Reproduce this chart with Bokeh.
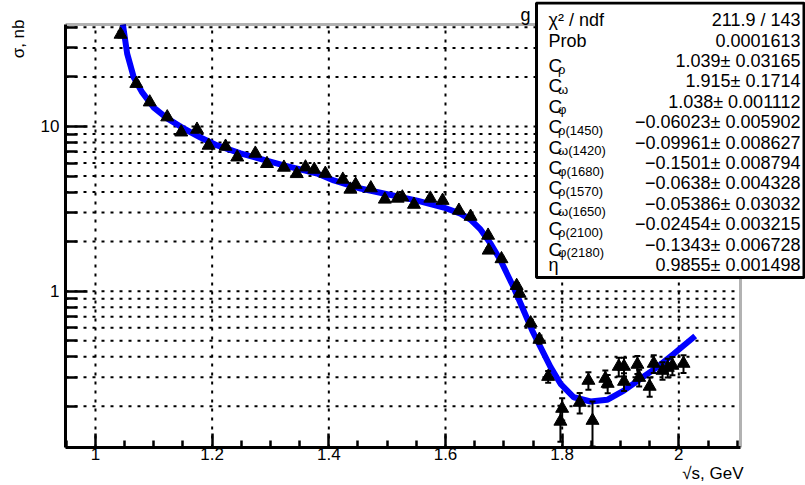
import math
from bokeh.plotting import figure
from bokeh.models import (Range1d, FixedTicker, Label, BoxAnnotation, Whisker,
                          TeeHead, ColumnDataSource, Title)
from bokeh.embed import file_html
from bokeh.resources import INLINE

# ---------------- data ----------------
pts_x = [1.043, 1.070, 1.093, 1.123, 1.147, 1.174, 1.194, 1.223, 1.243, 1.274,
         1.294, 1.323, 1.345, 1.360, 1.375, 1.394, 1.424, 1.437, 1.446, 1.472,
         1.496, 1.518, 1.526, 1.546, 1.574, 1.595, 1.623, 1.643, 1.673, 1.674,
         1.696, 1.722, 1.727, 1.746, 1.761, 1.776, 1.800, 1.797, 1.830, 1.845,
         1.852, 1.874, 1.878, 1.897, 1.906, 1.906, 1.929, 1.932, 1.950, 1.957,
         1.972, 1.981, 1.989, 2.008]
pts_y = [36.2, 18.2, 14.05, 11.4, 9.23, 9.59, 7.67, 7.56, 6.51, 6.86,
         5.94, 5.64, 5.16, 5.66, 5.48, 5.18, 4.77, 4.15, 4.44, 4.23,
         3.61, 3.66, 3.72, 3.36, 3.66, 3.55, 3.09, 2.84, 2.18, 1.77,
         1.57, 1.08, 0.969, 0.641, 0.509, 0.303, 0.194, 0.162, 0.211, 0.287,
         0.164, 0.295, 0.275, 0.349, 0.349, 0.283, 0.359, 0.299, 0.264, 0.364,
         0.330, 0.344, 0.354, 0.364]
pts_err = [1.5, 0.6, 0.4, 0.3, 0.25, 0.25, 0.2, 0.2, 0.15, 0.15,
           0.15, 0.15, 0.12, 0.12, 0.12, 0.12, 0.1, 0.1, 0.1, 0.1,
           0.08, 0.08, 0.08, 0.08, 0.08, 0.08, 0.07, 0.07, 0.06, 0.06,
           0.05, 0.04, 0.04, 0.03, 0.03, 0.025, 0.03, 0.04, 0.03, 0.035,
           0.05, 0.035, 0.035, 0.045, 0.045, 0.035, 0.045, 0.035, 0.035, 0.045,
           0.04, 0.045, 0.045, 0.045]

fit_x = [1.0470, 1.0543, 1.0657, 1.0801, 1.1000, 1.1229, 1.1514, 1.1800,
         1.2086, 1.2486, 1.3228, 1.3801, 1.4085, 1.4543, 1.4943, 1.5515, 1.5971,
         1.6257, 1.6429, 1.6600, 1.6772, 1.6943, 1.7171, 1.7487, 1.7629, 1.7801,
         1.7972, 1.8200, 1.8486, 1.8772, 1.9057, 1.9343, 1.9630, 1.9914, 2.0280]
fit_y = [41.6, 27.7, 19.8, 16.1, 13.0, 11.2, 9.72, 8.57,
         7.67, 6.86, 5.80, 5.18, 4.70, 4.20, 3.92, 3.55, 3.22,
         2.96, 2.72, 2.37, 1.95, 1.54, 1.05, 0.577, 0.457, 0.346,
         0.274, 0.227, 0.214, 0.219, 0.249, 0.294, 0.346, 0.417, 0.535]

x_major = [1.0, 1.2, 1.4, 1.6, 1.8, 2.0]
x_labels = ["1", "1.2", "1.4", "1.6", "1.8", "2"]
x_minor = [0.95, 1.05, 1.1, 1.15, 1.25, 1.3, 1.35, 1.45, 1.5, 1.55, 1.65, 1.7,
           1.75, 1.85, 1.9, 1.95, 2.05, 2.1]
y_major = [1, 10]
y_labels = ["1", "10"]
y_minor = [0.2, 0.3, 0.4, 0.5, 0.6, 0.7, 0.8, 0.9, 2, 3, 4, 5, 6, 7, 8, 9, 20, 30, 40]

x_title = "√s, GeV"
y_title = "σ, nb"

stat_names = ["χ² / ndf", "Prob", "C", "C", "C", "C", "C", "C", "C", "C", "C", "C", "η"]
stat_subs = ["", "", "ρ", "ω", "φ", "ρ(1450)", "ω(1420)", "φ(1680)", "ρ(1570)",
             "ω(1650)", "ρ(2100)", "φ(2180)", ""]
stat_values = ["211.9 / 143", "0.0001613", "1.039± 0.03165", "1.915± 0.1714",
               "1.038± 0.001112", "−0.06023± 0.005902", "−0.09961± 0.008627",
               "−0.1501± 0.008794", "−0.0638± 0.004328", "−0.05386± 0.03032",
               "−0.02454± 0.003215", "−0.1343± 0.006728", "0.9855± 0.001498"]

# ---------------- layout ----------------
W, H = 805, 485
FL, FR, FT, FB = 65, 740, 24, 447          # the ROOT frame, in canvas pixels
TOP = 1                                     # top of the (extended) Bokeh frame
XMIN, XMAX = 0.9486, 2.1057
YMIN, YMAX = 0.1125, 41.6
LMIN, LMAX = math.log10(YMIN), math.log10(YMAX)
XPP = (XMAX - XMIN) / (FR - FL)
LPP = (LMAX - LMIN) / (FB - FT)
# the Bokeh frame is extended up to (almost) the top and to the right canvas edge
XMAX_EXT = XMAX + (W - FR) * XPP
YMAX_EXT = 10 ** (LMAX + (FT - TOP) * LPP)

def dx(px):
    return XMIN + (px - FL) * XPP

def dy(py):
    return 10 ** (LMAX - (py - FT) * LPP)

FONT = "Liberation Sans"

p = figure(width=W, height=H, x_range=Range1d(XMIN, XMAX_EXT),
           y_range=Range1d(YMIN, YMAX_EXT),
           y_axis_type="log", output_backend="svg", toolbar_location=None,
           min_border_left=FL, min_border_right=0, min_border_top=TOP,
           min_border_bottom=H - FB)
p.background_fill_color = "white"
p.border_fill_color = "white"
p.outline_line_color = None
p.xgrid.visible = False
p.ygrid.visible = False

xt = FixedTicker(ticks=x_major, minor_ticks=x_minor)
yt = FixedTicker(ticks=y_major, minor_ticks=y_minor)
p.xaxis.ticker = xt
p.yaxis.ticker = yt
p.xaxis.major_label_overrides = {v: s for v, s in zip(x_major, x_labels)}
p.yaxis.major_label_overrides = {v: s for v, s in zip(y_major, y_labels)}
p.xaxis.bounds = (XMIN, XMAX)
p.yaxis.bounds = (YMIN, YMAX)

for ax in (p.xaxis[0], p.yaxis[0]):
    ax.axis_line_width = 3
    ax.axis_line_color = "black"
    ax.major_tick_line_width = 2.5
    ax.minor_tick_line_width = 2.5
    ax.major_tick_line_color = "black"
    ax.minor_tick_line_color = "black"
    ax.major_tick_out = 0
    ax.minor_tick_out = 0
    ax.major_label_text_font = FONT
    ax.major_label_text_font_size = "17px"
    ax.major_label_text_color = "black"
p.xaxis.major_tick_in = 14
p.xaxis.minor_tick_in = 7
p.xaxis.major_label_standoff = 0
p.yaxis.major_tick_in = 22
p.yaxis.minor_tick_in = 12
p.yaxis.major_label_standoff = 6

# axis titles, flush with the ROOT frame ends
p.add_layout(Title(text=x_title, align="right", vertical_align="bottom", offset=62,
                   standoff=-2, text_font=FONT, text_font_size="17px",
                   text_font_style="normal", text_color="black"), "below")
p.add_layout(Title(text=y_title, align="right", vertical_align="top", offset=18,
                   standoff=16, text_font=FONT, text_font_size="17px",
                   text_font_style="normal", text_color="black"), "left")

# dotted grid inside the ROOT frame, built from the tick arrays
gy = y_major + y_minor
p.segment(x0=[XMIN] * len(gy), x1=[XMAX] * len(gy), y0=gy, y1=gy,
          line_color="black", line_width=2, line_dash="3 6")
p.segment(x0=x_major, x1=x_major, y0=[YMIN] * len(x_major), y1=[YMAX] * len(x_major),
          line_color="black", line_width=2, line_dash="3 6")

# fit curve
p.line(fit_x, fit_y, line_color="#0000ff", line_width=6)

# data points with error bars
src = ColumnDataSource(dict(x=pts_x, y=pts_y,
                            lo=[y - e for y, e in zip(pts_y, pts_err)],
                            hi=[y + e for y, e in zip(pts_y, pts_err)]))
wh = Whisker(source=src, base="x", lower="lo", upper="hi", line_color="black", line_width=2,
             upper_head=TeeHead(size=6, line_width=2, line_color="black"),
             lower_head=TeeHead(size=6, line_width=2, line_color="black"),
             level="glyph")
p.add_layout(wh)
p.scatter("x", "y", source=src, marker="triangle", size=13, fill_color="black",
          line_color="black")

# ROOT frame (top and right edges)
p.add_layout(BoxAnnotation(left=XMIN, right=XMAX, top=YMAX, bottom=YMIN,
                           fill_alpha=0.0, line_color="black", line_width=3))

# title fragment (rest hidden by the stats box)
p.add_layout(Label(x=dx(520), y=dy(14), text="g", text_font=FONT, text_font_size="18px",
                   text_color="black", text_baseline="alphabetic", text_align="left"))

# stats box
p.add_layout(BoxAnnotation(left=dx(536), right=dx(803.5), top=dy(2.5), bottom=dy(277),
                           fill_color="white", fill_alpha=1.0, line_color="black",
                           line_width=3, line_alpha=1.0))
for i, (nm, sb, val) in enumerate(zip(stat_names, stat_subs, stat_values)):
    cy = 19.7 + 20.4 * i
    if sb:
        p.add_layout(Label(x=dx(548), y=dy(cy + 4.5), text=nm, text_font=FONT,
                           text_font_size="19px", text_baseline="alphabetic",
                           text_align="left", text_color="black"))
        p.add_layout(Label(x=dx(557.5), y=dy(cy + 8), text=sb, text_font=FONT,
                           text_font_size="13px", text_baseline="alphabetic",
                           text_align="left", text_color="black"))
    else:
        p.add_layout(Label(x=dx(548), y=dy(cy), text=nm, text_font=FONT,
                           text_font_size="18px", text_baseline="middle",
                           text_align="left", text_color="black"))
    p.add_layout(Label(x=dx(800), y=dy(cy), text=val, text_font=FONT,
                       text_font_size="18px", text_baseline="middle",
                       text_align="right", text_color="black"))

open("out.html", "w").write(file_html(p, INLINE))
